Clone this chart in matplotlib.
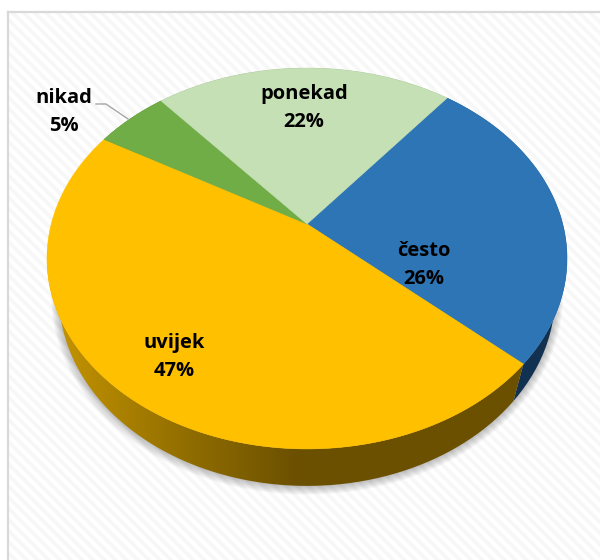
import numpy as np
import matplotlib
matplotlib.use('Agg')
import matplotlib.pyplot as plt
from matplotlib.colors import LinearSegmentedColormap
from matplotlib.patches import Polygon, Rectangle

labels = ['često', 'uvijek', 'nikad', 'ponekad']
values = [25.9, 46.7, 5.4, 22.0]
colors = ['#2E75B6', '#FFC000', '#70AD47', '#C5E0B4']
side_colors = ['#12304F', None, '#3F6128', '#6F7F66']
label_pos = [(424, 265), (174, 357), (64, 112), (304, 108)]

start_angle = 38.7

plt.rcParams['font.family'] = ['Open Sans', 'DejaVu Sans']
plt.rcParams['hatch.linewidth'] = 2.6
plt.rcParams['hatch.color'] = '#F7F7F7'

# tilted pie: circle goes through a perspective map, so the centre sits above the ellipse middle
cx, cy = 307, 224
A, B, k = 255.7, 184.2, 0.181


def rim(theta, lower=False):
    t = np.radians(theta)
    u, v = np.sin(t), np.cos(t)
    x = A * u / (1 + k * v)
    y = B * v / (1 + k * v)
    if lower:
        return cx + 0.954 * x, cy - y + 37
    return cx + x, cy - y


fig = plt.figure(figsize=(6, 5.6), dpi=100)
ax = fig.add_axes([0, 0, 1, 1])
ax.set_xlim(0, 600)
ax.set_ylim(560, 0)
ax.axis('off')

ax.add_patch(Rectangle((8, 12), 600, 560, facecolor='white', edgecolor='#F7F7F7',
                       hatch='\\\\\\', lw=0, zorder=0))
ax.plot([8, 8], [560, 12], color='#D9D9D9', lw=1.6, zorder=1)
ax.plot([8, 600], [12, 12], color='#D9D9D9', lw=1.6, zorder=1)

# soft shadow round the lower rim
all_t = np.linspace(0, 360, 361)
lx, ly = rim(all_t, lower=True)
mx, my = lx.mean(), ly.mean()
for i in range(1, 9):
    sx = mx + (lx - mx) * (1 + i / 250)
    sy = my + (ly - my) * (1 + i / 190)
    ax.fill(sx, sy, color='black', alpha=0.03, lw=0, zorder=2)

edges = start_angle + np.cumsum([0] + values) / sum(values) * 360

# side walls
for i in range(len(values)):
    t = np.linspace(edges[i], edges[i + 1], 200)
    x1, y1 = rim(t)
    x2, y2 = rim(t, lower=True)
    px = np.r_[x1, x2[::-1]]
    py = np.r_[y1, y2[::-1]]
    if side_colors[i] is None:
        cmap = LinearSegmentedColormap.from_list(
            'side', [(0, '#C79600'), (0.3, '#8F6C00'), (0.52, '#6B5000'), (1, '#6B5000')])
        im = ax.imshow(np.linspace(0, 1, 256)[None, :], cmap=cmap, aspect='auto',
                       extent=(47, 530, 500, 250), zorder=3)
        im.set_clip_path(Polygon(np.c_[px, py], transform=ax.transData))
        ax.set_xlim(0, 600)
        ax.set_ylim(560, 0)
    else:
        ax.fill(px, py, color=side_colors[i], lw=0, zorder=3)

# top face
for i in range(len(values)):
    t = np.linspace(edges[i], edges[i + 1], 200)
    x, y = rim(t)
    ax.fill(np.r_[cx, x], np.r_[cy, y], facecolor=colors[i], edgecolor=colors[i],
            lw=0.4, zorder=4)

# leader for the small slice
ax.plot([96, 106, 128], [104, 104, 119], color='#A6A6A6', lw=1, zorder=5)

for name, v, pos in zip(labels, values, label_pos):
    ax.text(pos[0], pos[1], f'{name}\n{round(v)}%', ha='center', va='center', fontsize=14.5,
            fontweight='bold', color='black', linespacing=1.5, zorder=6)

fig.savefig('out.png', dpi=100)
